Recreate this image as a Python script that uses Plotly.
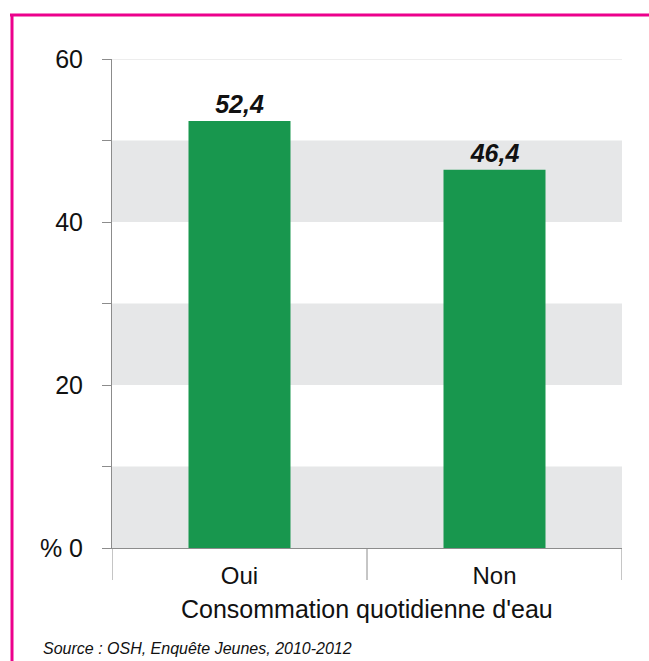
import plotly.graph_objects as go

# Data
categories = ["Oui", "Non"]
values = [52.4, 46.4]
tick_vals = [0, 10, 20, 30, 40, 50, 60]
tick_text = ["% 0", "", "20", "", "40", "", "60"]
band_ranges = [(0, 10), (20, 30), (40, 50)]

x_title = "Consommation quotidienne d'eau"
source_text = "Source : OSH, Enquête Jeunes, 2010-2012"

W, H = 649, 661
L, R, T, B = 112, 27, 59, 113
PW, PH = W - L - R, H - T - B


def px_x(px):
    return (px - L) / PW


def px_y(py):
    return (H - B - py) / PH


FONT = "Liberation Sans, Arial, sans-serif"
AXIS_GREY = "#8c8c8c"
PINK = "#ec008c"

fig = go.Figure()
fig.add_trace(go.Bar(
    x=categories,
    y=values,
    width=0.4,
    marker=dict(color="#18974e", line=dict(width=0)),
    texttemplate="%{y:.1f}",
    textposition="outside",
    textfont=dict(family=FONT, size=25, color="#111111", weight="bold", style="italic"),
    cliponaxis=False,
    hoverinfo="skip",
))

shapes = []
# alternating grey bands
for lo, hi in band_ranges:
    shapes.append(dict(type="rect", xref="paper", yref="y", x0=0, x1=1, y0=lo, y1=hi,
                       fillcolor="#e6e7e8", line=dict(width=0), layer="below"))
# faint top line at 60
shapes.append(dict(type="line", xref="paper", yref="y", x0=px_x(103), x1=1, y0=60, y1=60,
                   line=dict(color="#dcdcdc", width=1), layer="below"))
# category separators below the axis
for xb in [-0.5, 0.5, 1.5]:
    shapes.append(dict(type="line", xref="x", yref="paper", x0=xb, x1=xb, y0=0, y1=px_y(580),
                       line=dict(color=AXIS_GREY, width=1)))
# pink frame
shapes.append(dict(type="line", xref="paper", yref="paper", x0=px_x(10), x1=px_x(660),
                   y0=px_y(15), y1=px_y(15), line=dict(color=PINK, width=3)))
shapes.append(dict(type="line", xref="paper", yref="paper", x0=px_x(12), x1=px_x(12),
                   y0=px_y(14), y1=px_y(670), line=dict(color=PINK, width=3)))

annotations = [
    dict(text=x_title, xref="paper", yref="paper", x=0.5, y=px_y(609),
         xanchor="center", yanchor="middle", showarrow=False,
         font=dict(family=FONT, size=25, color="#111111")),
    dict(text=source_text, xref="paper", yref="paper", x=px_x(41), y=px_y(648),
         xanchor="left", yanchor="middle", showarrow=False,
         font=dict(family=FONT, size=16, color="#111111", style="italic")),
]

fig.update_layout(
    width=W, height=H,
    margin=dict(l=L, r=R, t=T, b=B, pad=0),
    paper_bgcolor="white",
    plot_bgcolor="white",
    separators=", ",
    showlegend=False,
    shapes=shapes,
    annotations=annotations,
    font=dict(family=FONT, color="#111111"),
    xaxis=dict(
        type="category",
        range=[-0.5, 1.5],
        showline=True, linecolor=AXIS_GREY, linewidth=1,
        ticks="", showgrid=False, zeroline=False,
        tickfont=dict(family=FONT, size=24, color="#111111"),
        ticklabelstandoff=6,
        fixedrange=True,
    ),
    yaxis=dict(
        range=[0, 60],
        tickvals=tick_vals, ticktext=tick_text,
        ticks="outside", ticklen=9, tickcolor=AXIS_GREY, tickwidth=1,
        showline=True, linecolor=AXIS_GREY, linewidth=1,
        showgrid=False, zeroline=False,
        tickfont=dict(family=FONT, size=25, color="#111111"),
        ticklabelstandoff=14,
        fixedrange=True,
    ),
)

fig.write_html("out.html")
